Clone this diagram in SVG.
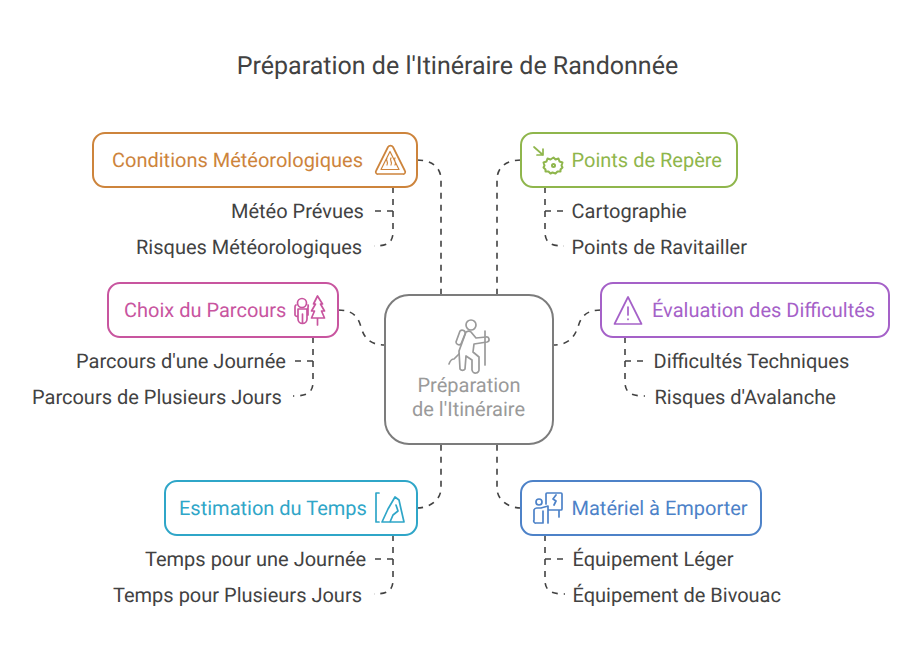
<svg xmlns="http://www.w3.org/2000/svg" width="914" height="657" viewBox="0 0 914 657">
<style>
text{font-family:Roboto,"Liberation Sans",sans-serif;text-rendering:geometricPrecision}
.t{font-size:20px;fill:#424242}
.h{font-size:20px}
.n{fill:#fff;stroke-width:2}
.c{fill:none;stroke:#424242;stroke-width:1.6;stroke-dasharray:6 6}
.i{fill:none;stroke-width:1.7;stroke-linecap:round;stroke-linejoin:round}
.f{stroke-width:1.2}
</style>
<rect width="914" height="657" fill="#fff"/>
<text x="457.500" y="74" text-anchor="middle" font-size="25" fill="#424242">Préparation de l'Itinéraire de Randonnée</text>
<g id="connectors">
<path class="c" d="M417 160C430 160 441 166 441 180V295"/>
<path class="c" d="M521 160C508 160 497 166 497 180V295"/>
<path class="c" d="M338 310C352 310 358 316 361 327C364 338 370 345 385 345"/>
<path class="c" d="M601 310C587 310 581 316 578 327C574 338 568 345 553 345"/>
<path class="c" d="M417 508C430 508 441 500 441 488V445"/>
<path class="c" d="M521 508C508 508 497 500 497 488V445"/>
<path class="c" d="M393 187V232C393 242 388 246 374 246"/>
<path class="c" d="M393 211H374"/>
<path class="c" d="M545 187V232C545 242 550 246 564 246"/>
<path class="c" d="M545 211H564"/>
<path class="c" d="M313 337V382C313 392 308 396 293 396"/>
<path class="c" d="M313 361H294"/>
<path class="c" d="M625 337V382C625 392 630 396 645 396"/>
<path class="c" d="M625 361H645"/>
<path class="c" d="M393 535V580C393 590 388 594 374 594"/>
<path class="c" d="M393 559H374"/>
<path class="c" d="M545 535V580C545 590 550 594 565 594"/>
<path class="c" d="M545 559H565"/>
</g>
<g id="center">
<rect x="385" y="295" width="168" height="149" rx="24" class="n" stroke="#7c7c7c"/>
<g class="i" stroke="#9a9a9a"><circle cx="471" cy="325" r="5"/><path d="M466 332c2-1 4-1 5 0l5 6 10-1a2 2 0 0 1 1 5l-13 2-1 8 6 5v12a3 3 0 0 1-7 1v-10l-6-4-1 13a3 3 0 0 1-5 0l-1-18z"/><path d="M485 331V365"/><path d="M460 331a3 3 0 0 1 5 3l-4 10a3 3 0 0 1-5-2z"/><path d="M449 364c1-3 2-5 5-5l5-5"/></g>
<text x="469" y="392" text-anchor="middle" class="h" fill="#9a9a9a">Préparation</text>
<text x="468.500" y="416" text-anchor="middle" class="h" fill="#9a9a9a">de l'Itinéraire</text>
</g>
<g id="conditions">
<rect x="93" y="133" width="324" height="54" rx="12" class="n" stroke="#cd843c"/>
<text x="112" y="166.500" class="h" fill="#cd843c">Conditions Météorologiques</text>
<g class="i" stroke="#cd843c"><path d="M388 147l-12 24a2 2 0 0 0 2 3h25a2 2 0 0 0 2-3l-12-24a3 3 0 0 0-5 0z"/><path class="f" d="M381 169.500h18l-9-18zM387 158c-2 2 2 4 0 7M391 158c-2 2 2 4 0 7M395 158c-2 2 2 4 0 7"/></g>
</g>
<g id="reperes">
<rect x="521" y="133" width="216" height="54" rx="12" class="n" stroke="#8fb64c"/>
<text x="571.500" y="166.500" class="h" fill="#8fb64c">Points de Repère</text>
<g class="i" stroke="#8fb64c"><path d="M534 147l9 8M543 149v6h-6"/><path stroke-width="2" d="M553.500 157.500l2 2 3-1 1 3 3 1-1 3 1 2-2 2 0 2-3 0-2 2-3-1-2 1-2-2-3 0 0-2-2-2 1-2-1-3 3-1 1-3 3 1z"/><circle cx="553.500" cy="165.500" r="1.500" stroke-width="2"/></g>
</g>
<g id="parcours">
<rect x="108" y="283" width="230" height="54" rx="12" class="n" stroke="#c8559f"/>
<text x="124" y="316.500" class="h" fill="#c8559f">Choix du Parcours</text>
<g class="i" stroke="#c8559f"><circle cx="302" cy="303" r="4.500"/><path d="M296 305a2 2 0 0 0-1 2v8a2 2 0 0 0 3 1v-4M308 305a2 2 0 0 1 0 2v8M298 309h9v10a4.500 4.500 0 0 1-9 0zM302.500 314v9"/><path d="M317.500 296l-4 8h2l-4 7h3l-3 7h13l-3-7h3l-4-7h2zM317.500 318v7"/></g>
</g>
<g id="evaluation">
<rect x="601" y="283" width="288" height="54" rx="12" class="n" stroke="#a561c8"/>
<text x="652" y="316.500" class="h" fill="#a561c8">Évaluation des Difficultés</text>
<g class="i" stroke="#a561c8"><path d="M628 297l-13.500 27h27z"/><path d="M628 307v8M628 319v.5"/></g>
</g>
<g id="temps">
<rect x="165" y="481" width="252" height="54" rx="12" class="n" stroke="#2fa6c8"/>
<text x="179" y="514.500" class="h" fill="#2fa6c8">Estimation du Temps</text>
<g class="i" stroke="#2fa6c8"><path d="M379 493h-3v29h3M382 522l6-13 7-12 4 3 2 9 3 13zM390 522l3-7 5-4-2-6"/></g>
</g>
<g id="materiel">
<rect x="521" y="481" width="240" height="54" rx="12" class="n" stroke="#4d82c8"/>
<text x="571.500" y="514.500" class="h" fill="#4d82c8">Matériel à Emporter</text>
<g class="i" stroke="#4d82c8"><circle cx="539" cy="502" r="3"/><path d="M534 520v-10a3 3 0 0 1 3-2h4l7-2M543 511v12h-7a2 2 0 0 1-2-3M548 506v17M546 504v-10a1 1 0 0 1 1-1h14a1 1 0 0 1 1 1v15a1 1 0 0 1-1 1h-12M559 510v7M556 495l-3 4 3 2-2 4"/></g>
</g>
<g id="labels">
<text x="231" y="217.500" class="t">Météo Prévues</text>
<text x="136" y="253.500" class="t">Risques Météorologiques</text>
<text x="571.500" y="217.500" class="t">Cartographie</text>
<text x="571.500" y="253.500" class="t">Points de Ravitailler</text>
<text x="76" y="367.500" class="t">Parcours d'une Journée</text>
<text x="32" y="403.500" class="t">Parcours de Plusieurs Jours</text>
<text x="653.500" y="367.500" class="t">Difficultés Techniques</text>
<text x="654.500" y="403.500" class="t">Risques d'Avalanche</text>
<text x="145" y="565.500" class="t">Temps pour une Journée</text>
<text x="113" y="601.500" class="t">Temps pour Plusieurs Jours</text>
<text x="572.500" y="565.500" class="t">Équipement Léger</text>
<text x="572.500" y="601.500" class="t">Équipement de Bivouac</text>
</g>
</svg>
